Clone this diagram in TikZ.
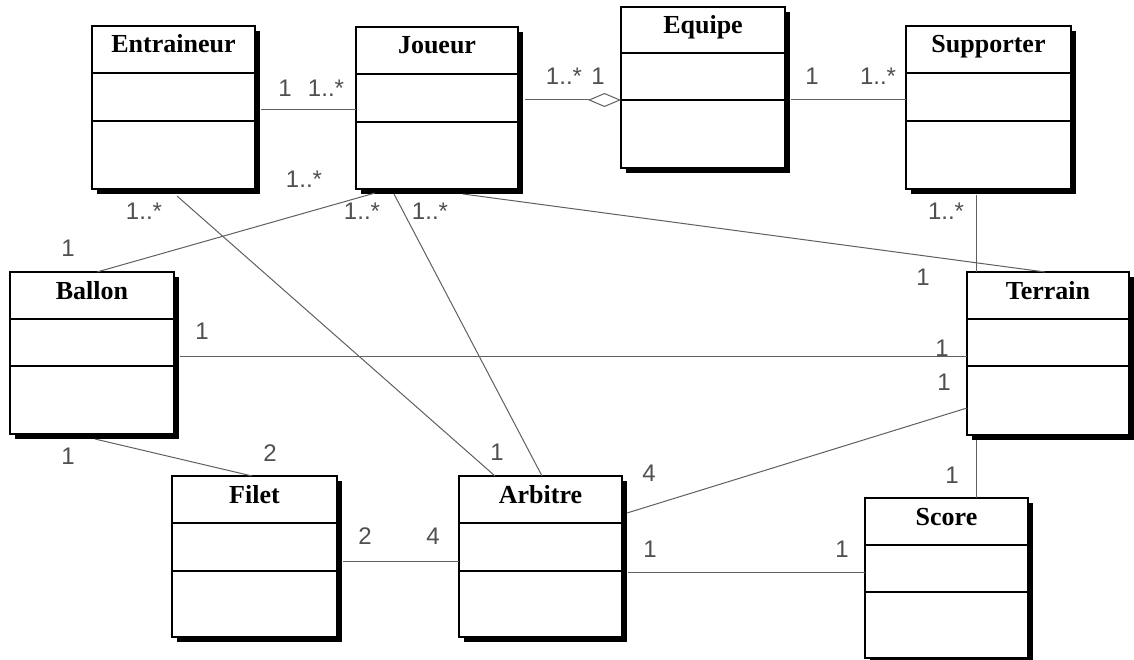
\documentclass[tikz,border=0pt]{standalone}
\usepackage{fontspec}
\setmainfont{Liberation Serif}
\newfontfamily\lblfont{Liberation Sans}
\usetikzlibrary{calc,arrows.meta}
\definecolor{linegray}{RGB}{96,96,96}
\definecolor{lblgray}{RGB}{80,80,80}
\newcommand\umlclass[8]{%
  \fill[shadowbox] (#2+5,#3+5) rectangle (#4+5,#5+5);
  \node[clsbox, minimum width={(#4-#2)*1pt}, minimum height={(#5-#3)*1pt}] (#1) at ({(#2+#4)/2},{(#3+#5)/2}) {};
  \draw[divline] (#2,#6) -- (#4,#6);
  \draw[divline] (#2,#7) -- (#4,#7);
  \node[clstitle, anchor=base] (#1-title) at ({(#2+#4)/2},#3+27) {#8};
}
\begin{document}
\begin{tikzpicture}[x=1pt,y=-1pt,
  conn/.style={draw=linegray, line width=1pt},
  mult/.style={text=lblgray, font=\lblfont\fontsize{24}{24}\selectfont, inner sep=0},
  clsbox/.style={draw=black, fill=white, line width=1.3pt, inner sep=0, outer sep=0},
  clstitle/.style={font=\bfseries\fontsize{26}{26}\selectfont, inner sep=0},
  divline/.style={draw=black, line width=1.3pt},
  shadowbox/.style={fill=black}]
\useasboundingbox[fill=white] (0,0) rectangle (1134,660);

% classes
\umlclass{ent}{92}{26}{255}{189}{73}{121}{Entraineur}
\umlclass{jou}{356}{27}{518}{189}{74}{122}{Joueur}
\umlclass{equ}{621}{7}{785}{168}{53}{100}{Equipe}
\umlclass{sup}{906}{26}{1071}{189}{73}{121}{Supporter}
\umlclass{bal}{10}{272}{174}{434}{319}{366}{Ballon}
\umlclass{ter}{967}{272}{1129}{435}{319}{366}{Terrain}
\umlclass{fil}{172}{476}{337}{637}{523}{571}{Filet}
\umlclass{arb}{459}{476}{622}{637}{523}{571}{Arbitre}
\umlclass{sco}{865}{498}{1028}{658}{545}{592}{Score}

% connectors
\draw[conn] ($(ent.north east)+(6,84)$) -- ($(jou.north west)+(0,83)$);
\draw[conn, -{Diamond[open, fill=white, length=33pt, width=14pt]}] ($(jou.north east)+(7,73)$) -- ($(equ.north west)+(0,93)$);
\draw[conn] ($(equ.north east)+(6,93)$) -- ($(sup.north west)+(0,74)$);
\draw[conn] ($(sup.south west)+(70,6)$) -- ($(ter.north west)+(9,0)$);
\draw[conn] ($(jou.south west)+(107,5)$) -- ($(ter.north west)+(78,0)$);
\draw[conn] ($(ent.south west)+(85,7)$) -- ($(arb.north west)+(36,0)$);
\draw[conn] ($(jou.south west)+(19,4)$) -- ($(bal.north west)+(87,0)$);
\draw[conn] ($(jou.south west)+(38,5)$) -- ($(arb.north west)+(83,0)$);
\draw[conn] ($(bal.north east)+(6,84)$) -- ($(ter.north west)+(0,84)$);
\draw[conn] ($(bal.south west)+(85,5)$) -- ($(fil.north west)+(80,0)$);
\draw[conn] ($(fil.north east)+(6,85)$) -- ($(arb.north west)+(0,85)$);
\draw[conn] ($(arb.north east)+(5,37)$) -- ($(ter.north west)+(0,136)$);
\draw[conn] ($(arb.north east)+(6,96)$) -- ($(sco.north west)+(0,74)$);
\draw[conn] ($(ter.south west)+(9,5)$) -- ($(sco.north west)+(111,0)$);

% multiplicities
\node[mult] (m1) at (285,88) {1};
\node[mult] (m2) at (326,88) {1..*};
\node[mult] (m3) at (564,76) {1..*};
\node[mult] (m4) at (598,76) {1};
\node[mult] (m5) at (812,76) {1};
\node[mult] (m6) at (878,76) {1..*};
\node[mult] (m7) at (946,211) {1..*};
\node[mult] (m8) at (923,277) {1};
\node[mult] (m9) at (144,211) {1..*};
\node[mult] (m10) at (304,179) {1..*};
\node[mult] (m11) at (362,211) {1..*};
\node[mult] (m12) at (430,211) {1..*};
\node[mult] (m13) at (68,248) {1};
\node[mult] (m14) at (202,331) {1};
\node[mult] (m15) at (942,348) {1};
\node[mult] (m16) at (944,382) {1};
\node[mult] (m17) at (68,456) {1};
\node[mult] (m18) at (270,453) {2};
\node[mult] (m19) at (497,452) {1};
\node[mult] (m20) at (365,536) {2};
\node[mult] (m21) at (433,536) {4};
\node[mult] (m22) at (649,473) {4};
\node[mult] (m23) at (952,475) {1};
\node[mult] (m24) at (650,549) {1};
\node[mult] (m25) at (842,549) {1};
\end{tikzpicture}
\end{document}
